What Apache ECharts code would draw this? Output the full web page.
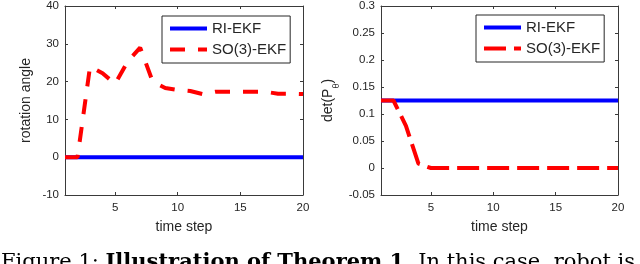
<!DOCTYPE html>
<html><head><meta charset="utf-8">
<script src="https://cdn.jsdelivr.net/npm/echarts@6/dist/echarts.min.js"></script>
<style>html,body{margin:0;padding:0;background:#fff}#c{width:640px;height:264px}</style>
</head><body><div id="c"></div>
<script>
const timeSteps = [1,2,3,4,5,6,7,8,9,10,11,12,13,14,15,16,17,18,19,20];
const angleRI   = [0,0,0,0,0,0,0,0,0,0,0,0,0,0,0,0,0,0,0,0];
const angleSO3  = [0,0,24,22.2,19.4,25.3,29,20,18.3,17.8,17.5,16.7,17.3,17.3,17.3,17.3,17.3,16.8,16.8,16.7];
const detRI     = [0.125,0.125,0.125,0.125,0.125,0.125,0.125,0.125,0.125,0.125,0.125,0.125,0.125,0.125,0.125,0.125,0.125,0.125,0.125,0.125];
const detSO3    = [0.125,0.125,0.078,0.008,0,0,0,0,0,0,0,0,0,0,0,0,0,0,0,0];
const xTickLabels = ['5','10','15','20'];
const angleTicks = [-10,0,10,20,30,40];
const detTicks = [-0.05,0,0.05,0.1,0.15,0.2,0.25,0.3];
const seriesNames = ['RI-EKF','SO(3)-EKF'];
const captionParts = ['Figure 1: ','Illustration of Theorem 1.',' In this case, robot is'];

const pairs = (ys) => timeSteps.map((t,i) => [t, ys[i]]);
const AX = '#3a3a3a', TXT = '#262626', FONT = 'Liberation Sans';
const BLUE = '#0000ff', RED = '#ff0000';
const dashL = [15, 13], dashR = [22, 8];

function xAxes(gi){
  const base = {type:'value', gridIndex:gi, min:timeSteps[0], max:timeSteps[timeSteps.length-1], splitNumber:4,
    splitLine:{show:false}, axisLine:{show:true, onZero:false, lineStyle:{color:AX,width:1}},
    axisTick:{show:true, inside:true, length:3, lineStyle:{color:AX}}};
  return [
    Object.assign({}, base, {position:'bottom',
      axisLabel:{show:true, showMinLabel:false, color:TXT, fontFamily:FONT, fontSize:11.5, margin:7,
        formatter:(v)=> xTickLabels.indexOf(String(v))>=0 ? String(v) : ''},
      name:'time step', nameLocation:'middle', nameGap:25,
      nameTextStyle:{color:TXT, fontFamily:FONT, fontSize:14}}),
    Object.assign({}, base, {position:'top', axisLabel:{show:false}})
  ];
}
function yAxes(gi, ticks, name, nameGap, nameStyle){
  const base = {type:'value', gridIndex:gi, min:ticks[0], max:ticks[ticks.length-1], interval:+(ticks[1]-ticks[0]).toFixed(6),
    splitLine:{show:false}, axisLine:{show:true, onZero:false, lineStyle:{color:AX,width:1}},
    axisTick:{show:true, inside:true, length:3, lineStyle:{color:AX}}};
  return [
    Object.assign({}, base, {position:'left',
      axisLabel:{show:true, color:TXT, fontFamily:FONT, fontSize:11.5, margin:6},
      name:name, nameLocation:'middle', nameGap:nameGap, nameRotate:90,
      nameTextStyle:nameStyle}),
    Object.assign({}, base, {position:'right', axisLabel:{show:false}})
  ];
}

function legendFor(left, top, dash){
  return {
    left:left, top:top, orient:'vertical', selectedMode:false,
    itemWidth:37, itemHeight:14, itemGap:6, padding:[5,4,6,6],
    borderColor:'#262626', borderWidth:1, backgroundColor:'#fff', borderRadius:0,
    textStyle:{fontSize:15, color:TXT, fontFamily:FONT, lineHeight:14},
    itemStyle:{opacity:0},
    lineStyle:{width:4},
    data:[{name:seriesNames[0], lineStyle:{width:4, type:'solid'}},
          {name:seriesNames[1], lineStyle:{width:4, type:dash}}]
  };
}

const chart = echarts.init(document.getElementById('c'), null, {renderer:'canvas'});
chart.setOption({
  animation:false,
  backgroundColor:'#fff',
  title:{left:1, top:252, padding:0,
    text:'{n|'+captionParts[0]+'}{b|'+captionParts[1]+'}{n|'+captionParts[2]+'}',
    textStyle:{fontWeight:'normal', rich:{
      n:{fontFamily:'DejaVu Serif', fontSize:21, color:'#000', fontWeight:'normal'},
      b:{fontFamily:'DejaVu Serif', fontSize:21, color:'#000', fontWeight:'bold'}
    }}},
  grid:[
    {left:65, top:5, width:238, height:190},
    {left:381, top:5, width:237, height:190}
  ],
  xAxis:[].concat(xAxes(0), xAxes(1)),
  yAxis:[].concat(
    yAxes(0, angleTicks, 'rotation angle', 32, {color:TXT, fontFamily:FONT, fontSize:14}),
    yAxes(1, detTicks, '{a|det(P}{s|θ}{a|)}', 40, {color:TXT, fontFamily:FONT, fontSize:14,
      rich:{a:{fontSize:14, fontFamily:FONT, color:TXT, lineHeight:20, verticalAlign:'top'},
            s:{fontSize:9, fontFamily:FONT, color:TXT, lineHeight:20, verticalAlign:'bottom'}}})
  ),
  legend:[legendFor(162,16,dashL), legendFor(476,15,dashR)],
  series:[
    {name:seriesNames[0], type:'line', xAxisIndex:0, yAxisIndex:0, data:pairs(angleRI), symbol:'none',
      lineStyle:{color:BLUE, width:4, cap:'butt'}, itemStyle:{color:BLUE}, z:2},
    {name:seriesNames[1], type:'line', xAxisIndex:0, yAxisIndex:0, data:pairs(angleSO3), symbol:'none',
      lineStyle:{color:RED, width:4, type:dashL, cap:'butt'}, itemStyle:{color:RED}, z:3},
    {name:seriesNames[0], type:'line', xAxisIndex:2, yAxisIndex:2, data:pairs(detRI), symbol:'none',
      lineStyle:{color:BLUE, width:4, cap:'butt'}, itemStyle:{color:BLUE}, z:2},
    {name:seriesNames[1], type:'line', xAxisIndex:2, yAxisIndex:2, data:pairs(detSO3), symbol:'none',
      lineStyle:{color:RED, width:4, type:dashR, cap:'butt'}, itemStyle:{color:RED}, z:3}
  ]
});
</script></body></html>
